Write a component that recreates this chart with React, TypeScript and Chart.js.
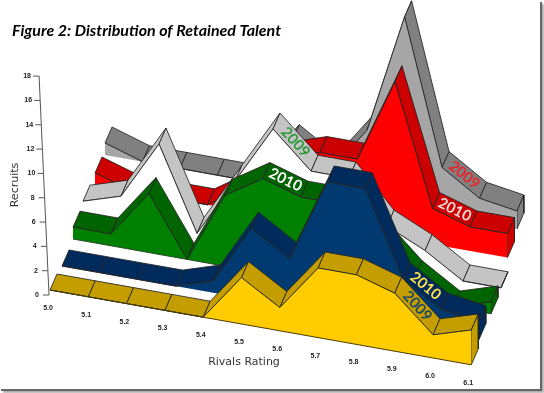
import React, { useEffect, useRef } from "react";
import { Chart, registerables } from "chart.js";

Chart.register(...registerables);

const categories = ["5.0", "5.1", "5.2", "5.3", "5.4", "5.5", "5.6", "5.7", "5.8", "5.9", "6.0", "6.1"];
const recruitTicks = [0, 2, 4, 6, 8, 10, 12, 14, 16, 18];

// Series, front row to back row
const yellow2009 = [0, 0, 0, 0, 0, 4, 2, 6, 6, 5, 2, 3];
const navy2010 = [0, 0, 0, 0, 1, 6, 4, 11, 11, 4, 2, 1.5];
const green2010 = [1, 1, 5, 0, 6, 8, 7, 7, 5, 2, 0, 1];
const white2009 = [1, 2, 7, 0, 5, 10, 7, 7, 3.5, 2, 0, 0];
const red2010 = [1, 0, 0, 0, 2, 5, 6, 6, 13, 3, 2, 2];
const gray2009 = [1, 0, 0, 0, 0, 4, 2, 6, 16, 4, 2, 1.5];

const TITLE = "Figure 2: Distribution of Retained Talent";
const W = 544;
const H = 393;
const TITLE_BLOCK = 50;

type Row = {
  values: number[]; label: string; labelColor: string; face: string; band: string; edge: string;
  ox: number; oy: number; sx: number; sy: number; unit: number;
};

const rows: Row[] = [
  { values: gray2009, label: "2009", labelColor: "#e8262a", face: "#a6a6a6", band: "#808080", edge: "rgba(0,0,0,0)", ox: 105, oy: 155, sx: 37.45, sy: 6.73, unit: 12 },
  { values: red2010, label: "2010", labelColor: "#f2d8d8", face: "#ff0000", band: "#cc0000", edge: "rgba(0,0,0,0)", ox: 95, oy: 185, sx: 37.5, sy: 6.6, unit: 12 },
  { values: white2009, label: "2009", labelColor: "#2f9a3a", face: "#ffffff", band: "#c4c4c4", edge: "rgba(0,0,0,0)", ox: 83, oy: 213, sx: 38, sy: 6.8, unit: 11.8 },
  { values: green2010, label: "2010", labelColor: "#ffffff", face: "#008000", band: "#006400", edge: "#2a4a2a", ox: 73, oy: 239, sx: 38, sy: 6.8, unit: 11.8 },
  { values: navy2010, label: "2010", labelColor: "#ffdf4a", face: "#003a70", band: "#002b5c", edge: "rgba(0,0,0,0)", ox: 62, oy: 266, sx: 37.9, sy: 6.7, unit: 11.9 },
  { values: yellow2009, label: "2009", labelColor: "#1f4a66", face: "#ffcc00", band: "#c49e00", edge: "#4a3c00", ox: 50, oy: 290, sx: 38.3, sy: 6.8, unit: 11.6 },
];

const DX = 7;
const DY = -16;
const LABEL_SEGMENT = [9, 9, 5, 5, 9, 9];

// Projected row position -> value on the chart's own flat scales
const proj = (r: Row, k: number, v: number, depth: number) => ({
  x: r.ox + k * r.sx + depth * DX,
  y: H - (r.oy + k * r.sy - v * r.unit + depth * DY),
});
const axisPoint = (v: number, off = 0) => ({ x: 49 - 0.55 * v - off, y: H - (295 - 12.16 * v) });

const poly = (pts: { x: number; y: number }[], fill: string, line: string) => ({
  data: [...pts, pts[0]],
  showLine: true,
  fill: "shape",
  backgroundColor: fill,
  borderColor: line,
  borderWidth: 1,
  pointRadius: 0,
  tension: 0,
  clip: false,
});
const stroke = (pts: { x: number; y: number }[], line: string) => ({
  data: pts,
  showLine: true,
  fill: false,
  borderColor: line,
  borderWidth: 1,
  pointRadius: 0,
  tension: 0,
  clip: false,
});

function buildDatasets() {
  const paint: any[] = [];
  paint.push(stroke(recruitTicks.map((v) => axisPoint(v)), "#555555"));
  recruitTicks.forEach((v) => paint.push(stroke([axisPoint(v), axisPoint(v, 6)], "#555555")));
  const OUTLINE = "rgba(35,35,35,0.85)";
  rows.forEach((r) => {
    const n = r.values.length;
    for (let k = 0; k < n - 1; k++) {
      paint.push(poly([
        proj(r, k, r.values[k], 0), proj(r, k + 1, r.values[k + 1], 0),
        proj(r, k + 1, r.values[k + 1], 1), proj(r, k, r.values[k], 1),
      ], r.band, OUTLINE));
    }
    paint.push(poly([
      proj(r, n - 1, r.values[n - 1], 0), proj(r, n - 1, r.values[n - 1], 1),
      proj(r, n - 1, 0, 1), proj(r, n - 1, 0, 0),
    ], r.band, OUTLINE));
    const top = r.values.map((v, k) => proj(r, k, v, 0));
    paint.push(poly([...top, proj(r, n - 1, 0, 0), proj(r, 0, 0, 0)], r.face, "rgba(0,0,0,0)"));
    paint.push(stroke(top, OUTLINE));
    paint.push(stroke([proj(r, 0, 0, 0), proj(r, n - 1, 0, 0)], r.edge));
  });
  return paint.reverse();
}

const textPlugin = {
  id: "perspectiveText",
  afterDatasetsDraw(chart: any) {
    const { ctx, scales } = chart;
    const px = (p: { x: number; y: number }) => ({ x: scales.x.getPixelForValue(p.x), y: scales.y.getPixelForValue(p.y) });
    ctx.save();
    ctx.textAlign = "center";
    ctx.textBaseline = "middle";
    // Recruit tick labels
    ctx.fillStyle = "#222222";
    ctx.font = "bold 7px 'Liberation Sans'";
    recruitTicks.forEach((v) => {
      const p = px(axisPoint(v, 12));
      ctx.fillText(String(v), p.x, p.y);
    });
    // Rating tick labels
    categories.forEach((c, k) => {
      const p = px({ x: 48 + k * 38.2, y: H - (308 + k * 6.8) });
      ctx.fillText(c, p.x, p.y);
    });
    // Axis titles
    ctx.fillStyle = "#333333";
    ctx.font = "11px 'DejaVu Sans'";
    ctx.fillText("Rivals Rating", 244, 362);
    ctx.save();
    ctx.translate(15, 185);
    ctx.rotate(-Math.PI / 2);
    ctx.fillText("Recruits", 0, 0);
    ctx.restore();
    // Row labels lying along their bands
    ctx.font = "bold 15px Lato";
    rows.forEach((r, i) => {
      const k = LABEL_SEGMENT[i];
      const a = px(proj(r, k, r.values[k], 0));
      const b = px(proj(r, k + 1, r.values[k + 1], 0));
      const m = px(proj(r, k + 0.5, (r.values[k] + r.values[k + 1]) / 2, 0.5));
      ctx.save();
      ctx.translate(m.x, m.y);
      ctx.rotate(Math.atan2(b.y - a.y, b.x - a.x));
      ctx.fillStyle = r.labelColor;
      ctx.fillText(r.label, 0, 0);
      ctx.restore();
    });
    ctx.restore();
  },
};

const fullArea = {
  id: "fullArea",
  afterLayout(chart: any) {
    chart.chartArea.height += chart.chartArea.top;
    chart.chartArea.top = 0;
  },
};

export default function App() {
  const ref = useRef<HTMLCanvasElement>(null);
  useEffect(() => {
    document.body.style.margin = "0";
    const chart = new Chart(ref.current as HTMLCanvasElement, {
      type: "scatter",
      data: { datasets: buildDatasets() as any },
      options: {
        animation: false,
        responsive: false,
        devicePixelRatio: 1,
        events: [],
        layout: { padding: { left: 12, top: 0, right: 0, bottom: 0 } },
        plugins: {
          legend: { display: false },
          tooltip: { enabled: false },
          title: {
            display: true,
            text: TITLE,
            align: "start",
            color: "#000000",
            font: { family: "Lato", size: 16, weight: "bold", style: "italic", lineHeight: "20px" },
            padding: { top: 21, bottom: 9 },
          },
        },
        scales: {
          x: { type: "linear", display: false, min: 12, max: W },
          y: { type: "linear", display: false, min: 0, max: H - TITLE_BLOCK },
        },
      } as any,
      plugins: [fullArea, textPlugin] as any,
    });
    return () => chart.destroy();
  }, []);
  return (
    <div style={{ position: "relative", width: W, height: H, background: "#fff", overflow: "hidden" }}>
      <canvas ref={ref} width={W} height={H} style={{ display: "block" }} />
      <div style={{ position: "absolute", left: 1, top: 2, width: 539, height: 387, borderRight: "2px solid #666", borderBottom: "2px solid #666", boxShadow: "2px 2px 2px #aaa", pointerEvents: "none" }} />
    </div>
  );
}
